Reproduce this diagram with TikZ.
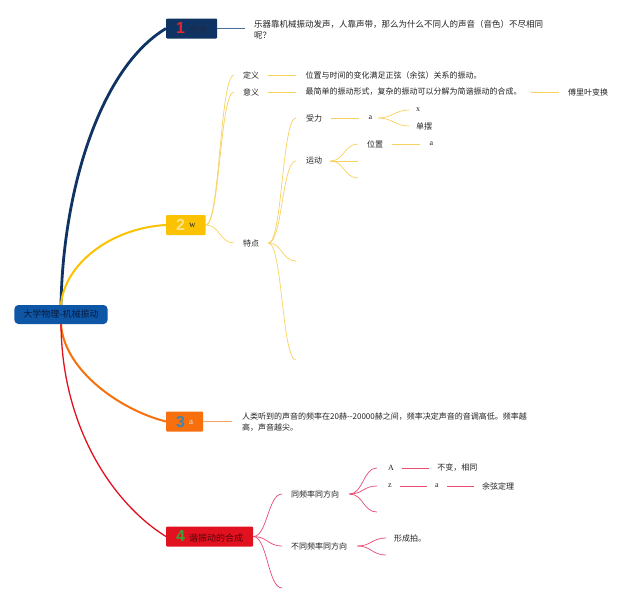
\documentclass[tikz,border=0pt]{standalone}
\usepackage{fontspec}
\setmainfont{Noto Sans CJK SC}
\newfontfamily\latfont{Liberation Serif}
\newfontfamily\numfont{Liberation Sans}
\usetikzlibrary{positioning}
\definecolor{navyc}{HTML}{0F3464}
\definecolor{rootc}{HTML}{0D57A6}
\definecolor{roottxt}{HTML}{0A1A3E}
\definecolor{yelc}{HTML}{FAC200}
\definecolor{orac}{HTML}{F8700D}
\definecolor{redc}{HTML}{E2111F}
\definecolor{ylinec}{HTML}{F8D25E}
\definecolor{rlinec}{HTML}{E84A72}
\definecolor{olinec}{HTML}{F8A468}
\definecolor{nlinec}{HTML}{4C6C9C}
\definecolor{txtc}{HTML}{222222}
\definecolor{n1c}{HTML}{E8252B}
\definecolor{l1c}{HTML}{1E2B45}
\definecolor{n2c}{HTML}{FDE38A}
\definecolor{n3c}{HTML}{3F84B8}
\definecolor{l3c}{HTML}{F5E6D8}
\definecolor{n4c}{HTML}{37A33A}
\definecolor{l4c}{HTML}{55040C}
\newcommand\tnum[2]{{\numfont\bfseries\fontsize{16}{16}\selectfont\color{#1}#2}}

\begin{document}
\begin{tikzpicture}[x=1pt, y=-1pt,
  node distance=46pt,
  mainbox/.style={fill=rootc, rounded corners=4pt, minimum height=19pt,
                  inner xsep=9pt, inner ysep=0pt, text=roottxt,
                  font=\fontsize{9}{10}\selectfont},
  topic/.style={anchor=west, rounded corners=1pt, minimum height=20pt,
                inner xsep=10pt, inner ysep=0pt, font=\fontsize{9}{10}\selectfont},
  leaf/.style={anchor=west, inner sep=0pt, text=txtc, font=\fontsize{8}{11}\selectfont},
  lat/.style={font=\latfont\fontsize{8}{10}\selectfont},
  ybr/.style={draw=ylinec, line width=0.7pt, out=0, in=180, distance=14pt},
  rbr/.style={draw=rlinec, line width=0.7pt, out=0, in=180, distance=14pt},
  yln/.style={draw=ylinec, line width=0.7pt, shorten <=9pt, shorten >=9pt},
  rln/.style={draw=rlinec, line width=0.7pt, shorten <=8pt, shorten >=8pt}
]
\fill[white] (0,0) rectangle (640,600);
\useasboundingbox (0,0) rectangle (640,600);

\node[mainbox] (root) at (61,314.5) {大学物理-机械振动};
\node[topic, fill=navyc] (t1) at (166,28.5) {\tnum{n1c}{1}\hspace{4pt}\textcolor{l1c}{思考}};
\node[topic, fill=yelc] (t2) at (166,225) {\tnum{n2c}{2}\hspace{4pt}\raisebox{3pt}{\latfont\color{txtc}w}};
\node[topic, fill=orac] (t3) at (166,421.5) {\tnum{n3c}{3}\hspace{4pt}\raisebox{3pt}{\latfont\color{l3c}a}};
\node[topic, fill=redc] (t4) at (166,536.5) {\tnum{n4c}{4}\hspace{4pt}\textcolor{l4c}{谐振动的合成}};

\node[leaf, font=\fontsize{8.5}{11}\selectfont, align=left] (q1) at (254,29.5)
  {乐器靠机械振动发声，人靠声带，那么为什么不同人的声音（音色）不尽相同\\呢？};

\node[leaf] (def) at (243,75) {定义};
\node[leaf, right=of def] (defT) {位置与时间的变化满足正弦（余弦）关系的振动。};
\node[leaf] (sig) at (243,92) {意义};
\node[leaf, right=of sig] (sigT) {最简单的振动形式，复杂的振动可以分解为简谐振动的合成。};
\node[leaf, right=of sigT] (fou) {傅里叶变换};
\node[leaf] (feat) at (243,243) {特点};
\node[leaf] (force) at (306,118) {受力};
\node[leaf, lat, right=of force] (fa) {a};
\node[leaf, lat] (fx) at (416,110) {x};
\node[leaf] (pend) at (416,126) {单摆};
\node[leaf] (move) at (306,161) {运动};
\node[leaf] (pos) at (367,144) {位置};
\node[leaf, lat, right=of pos] (pa) {a};
\coordinate (m2) at (358,161);
\coordinate (m3) at (358,178);
\coordinate (f3) at (296,261);
\coordinate (f4) at (296,360);

\node[leaf, align=left] (q3) at (242,422)
  {人类听到的声音的频率在20赫{-}{-}20000赫之间，频率决定声音的音调高低。频率越\\高，声音越尖。};

\node[leaf] (same) at (291,494) {同频率同方向};
\node[leaf] (diff) at (291,546) {不同频率同方向};
\coordinate (r3) at (282,588);
\node[leaf, lat] (amp) at (388,468) {A};
\node[leaf, right=43pt of amp] (ampT) {不变，相同};
\node[leaf, lat] (ph) at (388,486) {z};
\node[leaf, lat, right=43pt of ph] (pha) {a};
\node[leaf, right=43pt of pha] (cosl) {余弦定理};
\coordinate (s3) at (377,512);
\node[leaf] (beat) at (394,538) {形成拍。};
\coordinate (d2) at (386,555);

\draw[navyc, line width=2.8pt] (root.north) .. controls (63,190) and (100,68) .. (t1.west);
\draw[yelc, line width=2pt] (root.north) .. controls (64,265) and (110,228) .. (t2.west);
\draw[orac, line width=2pt] (root.south) .. controls (64,370) and (120,410) .. (t3.west);
\draw[redc, line width=1.3pt] (root.south) .. controls (62,430) and (115,505) .. (t4.west);

\draw[nlinec, line width=0.8pt] (t1.east) -- ([xshift=-9pt]q1.west |- t1.east);
\draw[olinec, line width=0.8pt] (t3.east) -- ([xshift=-10pt]q3.west |- t3.east);

\draw[ybr] (t2.east) to ([xshift=-9pt]def.west);
\draw[ybr] (t2.east) to ([xshift=-9pt]sig.west);
\draw[ybr] (t2.east) to ([xshift=-9pt]feat.west);
\draw[yln] (def) -- (defT);
\draw[yln] (sig) -- (sigT);
\draw[yln] (sigT) -- (fou);
\draw[ybr] ([xshift=9pt]feat.east) to ([xshift=-10pt]force.west);
\draw[ybr] ([xshift=9pt]feat.east) to ([xshift=-10pt]move.west);
\draw[ybr] ([xshift=9pt]feat.east) to (f3);
\draw[ybr] ([xshift=9pt]feat.east) to (f4);
\draw[yln] (force) -- (fa);
\draw[ybr] ([xshift=6pt]fa.east) to ([xshift=-7pt]fx.west);
\draw[ybr] ([xshift=6pt]fa.east) to ([xshift=-7pt]pend.west);
\draw[ybr] ([xshift=8pt]move.east) to ([xshift=-9pt]pos.west);
\draw[ybr] ([xshift=8pt]move.east) to (m2);
\draw[ybr] ([xshift=8pt]move.east) to (m3);
\draw[yln] (pos) -- (pa);

\draw[rbr] (t4.east) to ([xshift=-9pt]same.west);
\draw[rbr] (t4.east) to ([xshift=-9pt]diff.west);
\draw[rbr] (t4.east) to (r3);
\draw[rbr] ([xshift=10pt]same.east) to ([xshift=-11pt]amp.west);
\draw[rbr] ([xshift=10pt]same.east) to ([xshift=-11pt]ph.west);
\draw[rbr] ([xshift=10pt]same.east) to (s3);
\draw[rln] (amp) -- (ampT);
\draw[rln] (ph) -- (pha);
\draw[rln] (pha) -- (cosl);
\draw[rbr] ([xshift=10pt]diff.east) to ([xshift=-8pt]beat.west);
\draw[rbr] ([xshift=10pt]diff.east) to (d2);
\end{tikzpicture}
\end{document}
